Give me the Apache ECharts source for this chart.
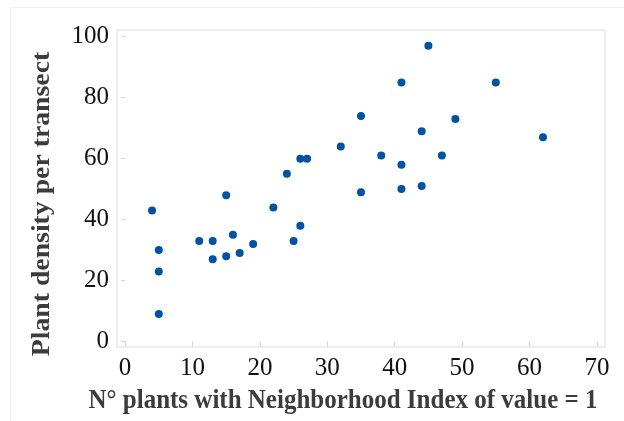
<!DOCTYPE html>
<html>
<head>
<meta charset="utf-8">
<script src="https://cdn.jsdelivr.net/npm/echarts@6/dist/echarts.min.js"></script>
<style>html,body{margin:0;padding:0;background:#fff}#c{width:624px;height:421px}</style>
</head>
<body>
<div id="c"></div>
<script>
const xValues = [4,5,5,5,11,13,13,15,15,16,17,19,22,24,25,26,26,27,32,35,35,38,41,41,41,44,44,45,47,49,55,62];
const yValues = [43,30,23,9,33,33,27,48,28,35,29,32,44,55,33,38,60,60,64,74,49,61,85,58,50,69,51,97,61,73,85,67];
const xTicks = [0,10,20,30,40,50,60,70];
const yTicks = [0,20,40,60,80,100];
const xTitle = 'N° plants with Neighborhood Index of value = 1';
const yTitle = 'Plant density per transect';

const points = xValues.map((x, i) => [x, yValues[i]]);
const serif = '"Liberation Serif", "DejaVu Serif", serif';
const chart = echarts.init(document.getElementById('c'), null, {renderer: 'canvas'});
chart.setOption({
  backgroundColor: '#fff',
  animation: false,
  graphic: [
    {type: 'rect', shape: {x: 10.5, y: 7.5, width: 700, height: 500}, style: {fill: 'none', stroke: '#efefef', lineWidth: 1}, silent: true},
    {type: 'text', x: 343, y: 401, scaleY: 1.1, style: {text: xTitle, font: 'bold 25px ' + serif, fill: '#3c3c3c', align: 'center', verticalAlign: 'middle'}},
    {type: 'text', x: 43, y: 204, rotation: Math.PI / 2, scaleX: 1.11, style: {text: yTitle, font: 'bold 25px ' + serif, fill: '#3c3c3c', align: 'center', verticalAlign: 'middle'}}
  ],
  grid: {left: 117, top: 30, right: 19, bottom: 74, show: true, borderColor: '#dcdcdc', borderWidth: 1, containLabel: false},
  xAxis: {
    type: 'value', min: -1.2, max: 71.2,
    axisLine: {show: false},
    splitLine: {show: false},
    axisTick: {show: true, customValues: xTicks, length: 5, lineStyle: {color: '#d4d4d4'}},
    axisLabel: {customValues: xTicks, color: '#111', fontFamily: serif, fontSize: 25, margin: 9}
  },
  yAxis: {
    type: 'value', min: -1.8, max: 102.2,
    axisLine: {show: false},
    splitLine: {show: false},
    axisTick: {show: true, customValues: yTicks, length: 4, lineStyle: {color: '#d4d4d4'}},
    axisLabel: {customValues: yTicks, color: '#111', fontFamily: serif, fontSize: 25, margin: 8}
  },
  series: [{
    type: 'scatter',
    data: points,
    symbol: 'circle',
    symbolSize: 8,
    itemStyle: {color: '#0052a3', opacity: 1}
  }]
});
</script>
</body>
</html>
